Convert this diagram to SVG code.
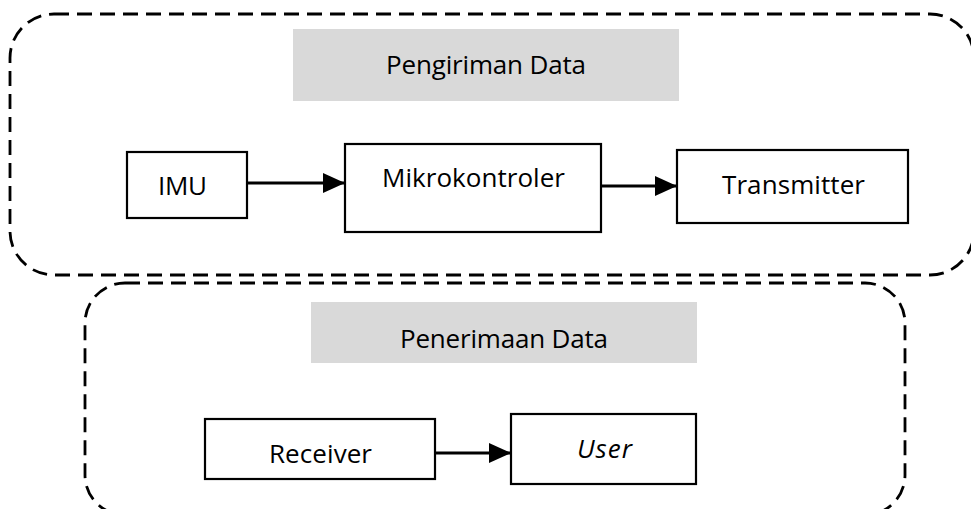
<svg xmlns="http://www.w3.org/2000/svg" width="971" height="509" viewBox="0 0 971 509">
  <defs>
    <marker id="head" viewBox="0 0 22 20" refX="22" refY="10" markerWidth="22" markerHeight="20" markerUnits="userSpaceOnUse" orient="auto">
      <path d="M0,0 L22,10 L0,20 Z" fill="#000"/>
    </marker>
  </defs>
  <style>
    .group { fill: none; stroke: #000; stroke-width: 2.8; stroke-dasharray: 15 8; }
    .title { fill: #d9d9d9; }
    .box { fill: #fff; stroke: #000; stroke-width: 2.2; }
    .label { font-family: "Open Sans", "Liberation Sans", sans-serif; font-size: 26px; fill: #000; }
    .link { stroke: #000; stroke-width: 3; fill: none; }
  </style>

  <rect width="971" height="509" fill="#fff"/>

  <!-- Sending stage -->
  <g id="pengiriman">
    <rect class="group" x="10" y="14" width="964" height="261" rx="44" ry="44"/>
    <rect class="title" x="293" y="29" width="386" height="72"/>
    <text class="label" x="386" y="74" textLength="200">Pengiriman Data</text>
  </g>

  <!-- Receiving stage -->
  <g id="penerimaan">
    <rect class="group" x="85" y="283" width="820" height="232" rx="40" ry="40"/>
    <rect class="title" x="311" y="302" width="386" height="61"/>
    <text class="label" x="400" y="348" textLength="208">Penerimaan Data</text>
  </g>

  <g id="imu">
    <rect class="box" x="127" y="152" width="120" height="66"/>
    <text class="label" x="158" y="195" textLength="49">IMU</text>
  </g>

  <g id="mikrokontroler">
    <rect class="box" x="345" y="144" width="256" height="88"/>
    <text class="label" x="382" y="187" textLength="183">Mikrokontroler</text>
  </g>

  <g id="transmitter">
    <rect class="box" x="677" y="150" width="231" height="73"/>
    <text class="label" x="722" y="194" textLength="143">Transmitter</text>
  </g>

  <g id="receiver">
    <rect class="box" x="205" y="419" width="230" height="60"/>
    <text class="label" x="269" y="463" textLength="103">Receiver</text>
  </g>

  <g id="user">
    <rect class="box" x="511" y="414" width="185" height="70"/>
    <text class="label" x="577" y="458" textLength="55" font-style="italic">User</text>
  </g>

  <!-- Connectors -->
  <g id="connectors">
    <line class="link" x1="248" y1="183" x2="345" y2="183" marker-end="url(#head)"/>
    <line class="link" x1="602" y1="186" x2="677" y2="186" marker-end="url(#head)"/>
    <line class="link" x1="436" y1="453" x2="511" y2="453" marker-end="url(#head)"/>
  </g>
</svg>
